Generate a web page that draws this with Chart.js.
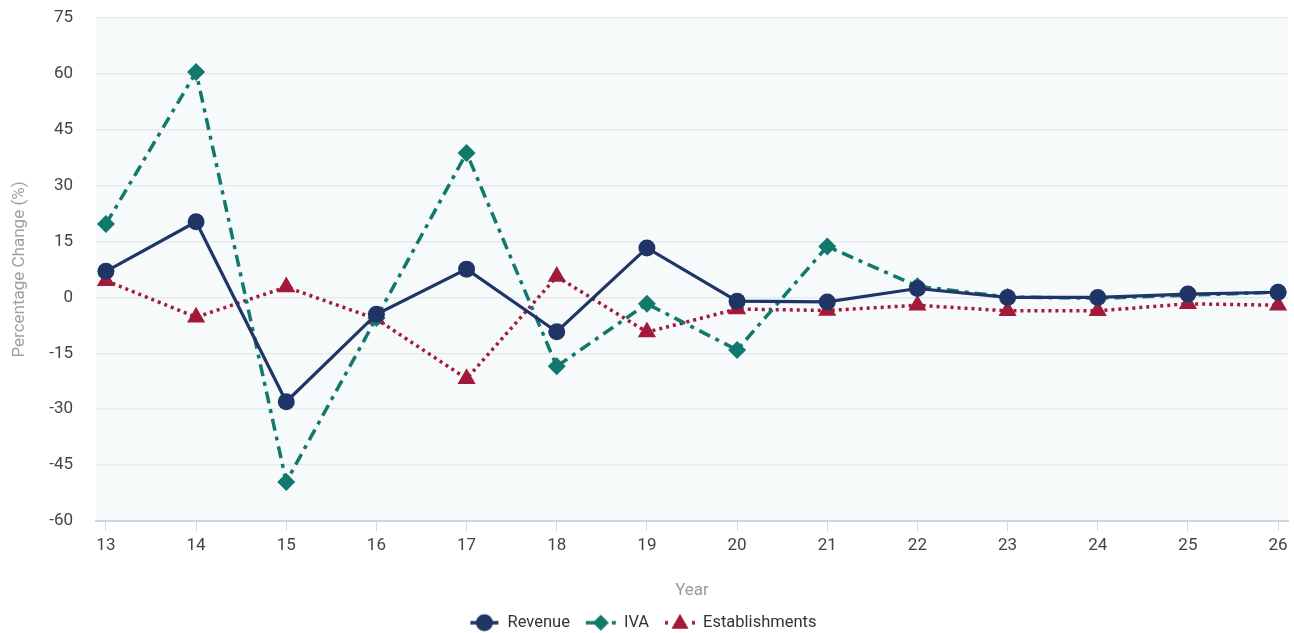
<!DOCTYPE html>
<html>
<head>
<meta charset="utf-8">
<script src="https://cdn.jsdelivr.net/npm/chart.js@4.4.1/dist/chart.umd.min.js"></script>
<style>
  html, body { margin: 0; padding: 0; background: #ffffff; overflow: hidden; }
  #wrap { width: 1294px; height: 633px; }
</style>
</head>
<body>
<div id="wrap"><canvas id="c" width="1294" height="633"></canvas></div>
<script>
// Year (two-digit) and annual percentage change per series
const years = [13, 14, 15, 16, 17, 18, 19, 20, 21, 22, 23, 24, 25, 26];
const revenue = [7.0, 20.3, -28.0, -4.5, 7.6, -9.2, 13.3, -1.0, -1.2, 2.4, 0.0, 0.0, 0.9, 1.4];
const iva = [19.7, 60.5, -49.5, -5.5, 38.8, -18.5, -1.7, -14.1, 13.7, 3.0, 0.1, -0.2, 0.6, 1.4];
const establishments = [4.5, -5.3, 2.8, -5.8, -21.8, 5.6, -9.3, -3.1, -3.5, -2.1, -3.6, -3.6, -1.7, -2.1];
const yTicks = [-60, -45, -30, -15, 0, 15, 30, 45, 60, 75];

const NAVY = '#1f3566';
const TEAL = '#12786c';
const CRIMSON = '#a3193a';

const toXY = vals => vals.map((v, i) => ({ x: years[i], y: v }));

// Legend glyph: short line in the series dash style with the marker on it.
// The glyph sits right of the image centre so it lands close to its label.
const GLYPH_W = 50, GLYPH_H = 20, GC = 31;
function legendGlyph(color, shape, segments) {
  const cv = document.createElement('canvas');
  cv.width = GLYPH_W; cv.height = GLYPH_H;
  const g = cv.getContext('2d');
  const cy = GLYPH_H / 2;
  g.strokeStyle = color; g.fillStyle = color;
  g.lineWidth = 3.5;
  segments.forEach(([a, b]) => {
    g.beginPath(); g.moveTo(GC + a, cy); g.lineTo(GC + b, cy); g.stroke();
  });
  g.beginPath();
  if (shape === 'circle') {
    g.arc(GC, cy, 8.5, 0, Math.PI * 2);
  } else if (shape === 'diamond') {
    g.moveTo(GC, cy - 8); g.lineTo(GC + 8, cy); g.lineTo(GC, cy + 8); g.lineTo(GC - 8, cy); g.closePath();
  } else {
    g.moveTo(GC, cy - 9); g.lineTo(GC + 8.5, cy + 6); g.lineTo(GC - 8.5, cy + 6); g.closePath();
  }
  g.fill();
  return cv;
}

const glyphs = [
  legendGlyph(NAVY, 'circle', [[-14, 14]]),
  legendGlyph(TEAL, 'diamond', [[-15, -6], [11, 15]]),
  legendGlyph(CRIMSON, 'triangle', [[-15, -12], [12, 15]])
];

const plotBackground = {
  id: 'plotBackground',
  beforeDraw(chart) {
    const { ctx, chartArea: a } = chart;
    ctx.save();
    ctx.fillStyle = '#f7fafb';
    ctx.fillRect(a.left, a.top, a.right - a.left, a.bottom - a.top);
    ctx.restore();
  }
};

// Nudge the legend row after layout
const legendNudge = {
  id: 'legendNudge',
  afterLayout(chart) {
    const l = chart.legend;
    if (!l) return;
    l.top += 8; l.bottom += 8;
    l.left -= 10; l.right -= 10;
  }
};

Chart.defaults.font.family = 'Roboto, "Noto Sans", sans-serif';

new Chart(document.getElementById('c'), {
  type: 'line',
  data: {
    datasets: [
      {
        label: 'Revenue',
        data: toXY(revenue),
        borderColor: NAVY,
        backgroundColor: NAVY,
        borderWidth: 3.2,
        pointBorderWidth: 0,
        pointStyle: 'circle',
        pointRadius: 8.5,
        pointHoverRadius: 8.5,
        tension: 0,
        order: 1
      },
      {
        label: 'IVA',
        data: toXY(iva),
        borderColor: TEAL,
        backgroundColor: TEAL,
        borderWidth: 3.5,
        pointBorderWidth: 0,
        borderDash: [12, 6, 4, 6],
        pointStyle: 'rectRot',
        pointRadius: 9,
        pointHoverRadius: 9,
        tension: 0,
        order: 2
      },
      {
        label: 'Establishments',
        data: toXY(establishments),
        borderColor: CRIMSON,
        backgroundColor: CRIMSON,
        borderWidth: 3.5,
        pointBorderWidth: 0,
        borderDash: [3, 4],
        pointStyle: 'triangle',
        pointRadius: 10.5,
        pointHoverRadius: 10.5,
        tension: 0,
        order: 3
      }
    ]
  },
  options: {
    responsive: false,
    animation: false,
    layout: { autoPadding: false, padding: { left: 6, right: 6, top: 18, bottom: 0 } },
    scales: {
      x: {
        type: 'linear',
        min: 12.89,
        max: 26.11,
        afterBuildTicks(axis) { axis.ticks = years.map(v => ({ value: v })); },
        afterFit(axis) { axis.height = 81.5; axis.paddingLeft = 0; axis.paddingRight = 0; },
        ticks: { color: '#444', font: { size: 17 }, padding: 5, autoSkip: false, maxRotation: 0 },
        grid: { drawOnChartArea: false, drawTicks: true, tickLength: 10, color: '#d0d8e4' },
        border: { display: true, color: '#cbd6e8', width: 2 },
        title: { display: true, text: 'Year', color: '#9a9a9a', font: { size: 17 }, padding: { top: 4, bottom: 2 } }
      },
      y: {
        min: -60,
        max: 75,
        afterBuildTicks(axis) { axis.ticks = yTicks.map(v => ({ value: v })); },
        afterFit(axis) { axis.width = 90; axis.paddingTop = 0; axis.paddingBottom = 0; },
        ticks: { color: '#444', font: { size: 17 }, padding: 23 },
        grid: { color: '#e7eaed', lineWidth: 1.5, drawTicks: false },
        border: { display: false },
        title: { display: true, text: 'Percentage Change (%)', color: '#a0a0a0', font: { size: 17 }, padding: { top: 4, bottom: 4 } }
      }
    },
    plugins: {
      legend: {
        position: 'bottom',
        labels: {
          usePointStyle: true,
          pointStyleWidth: 41.75,
          color: '#333',
          font: { size: 16.5 },
          padding: 4,
          generateLabels(chart) {
            return chart.data.datasets.map((ds, i) => ({
              text: ds.label,
              pointStyle: glyphs[i],
              fillStyle: ds.borderColor,
              strokeStyle: ds.borderColor,
              fontColor: '#333',
              lineWidth: 0,
              hidden: false,
              datasetIndex: i
            }));
          }
        }
      },
      tooltip: { enabled: false }
    }
  },
  plugins: [plotBackground, legendNudge]
});
</script>
</body>
</html>
